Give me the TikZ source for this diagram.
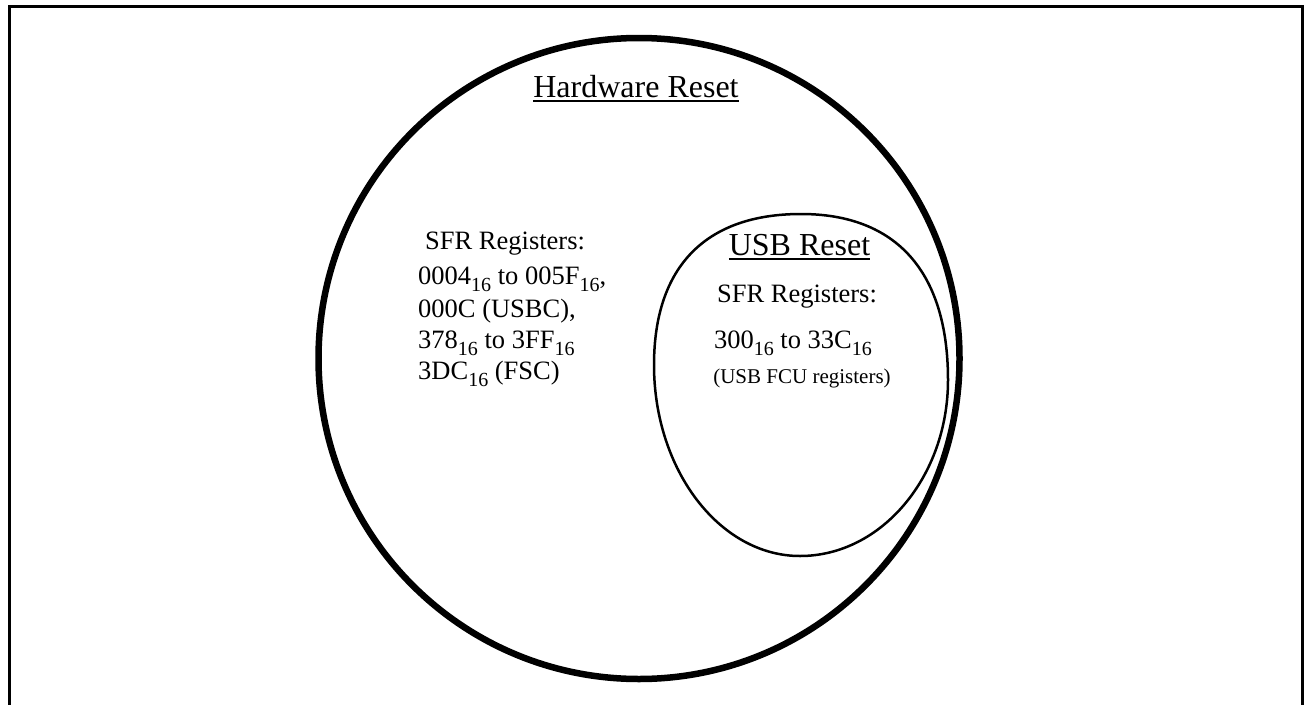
\documentclass[tikz,border=0pt]{standalone}
\usepackage{fontspec}
\setmainfont{Liberation Serif}
\usetikzlibrary{shapes.geometric}

\newcommand{\hexsub}[1]{\raisebox{-0.27em}{\fontsize{20}{20}\selectfont #1}}
\newcommand{\unterstr}[1]{\leavevmode\vtop{\hbox{#1}\kern2.5pt\hrule height 1.8pt}}

\begin{document}
\begin{tikzpicture}[x=1pt, y=-1pt,
        every node/.style={inner sep=0pt, font=\fontsize{26.5}{32}\selectfont},
        gross/.style={font=\fontsize{32}{38}\selectfont},
        klein/.style={font=\fontsize{21}{25}\selectfont},
        menge/.style={draw, circle, line width=#1},
        rand/.style={draw, line width=3pt}
    ]

        \useasboundingbox (0,0) rectangle (1306,704);

        %--------------------------------
        % Rahmen und Mengen
        %--------------------------------
        \draw[rand] (9,6) rectangle (1302.5,715);

        \node[menge=6.5pt, minimum size=641pt] (hw) at (639,358.5) {};

        % USB-Menge (oben etwas flacher)
        \coordinate (uo) at (801,214);
        \coordinate (ul) at (654,365);
        \coordinate (uu) at (800,556);
        \coordinate (ur) at (948,380);
        \draw[line width=2.5pt]
            (uo) .. controls (705.5,214) and (654,266.8) .. (ul)
                 .. controls (654,470) and (719.7,556) .. (uu)
                 .. controls (881.4,556) and (948,476.8) .. (ur)
                 .. controls (948,272) and (896.5,214) .. (uo) -- cycle;

        %--------------------------------
        % Hardware Reset
        %--------------------------------
        \node[gross, anchor=base] (hwtitel) at (636,97) {\unterstr{Hardware Reset}};

        \node[anchor=base west] (l1) at (425,249) {SFR Registers:};
        \foreach \y/\n/\t in {284/2/{0004\hexsub{16} to 005F\hexsub{16},},
                              317/3/{000C (USBC),},
                              348/4/{378\hexsub{16} to 3FF\hexsub{16}},
                              379/5/{3DC\hexsub{16} (FSC)}}
            \node[anchor=base west] (l\n) at (418,\y) {\t};

        %--------------------------------
        % USB Reset
        %--------------------------------
        \node[gross, anchor=base] (usbtitel) at (799.5,255) {\unterstr{USB Reset}};
        \node[anchor=base] (u1) at (797,302) {SFR Registers:};
        \node[anchor=base] (u2) at (793,348) {300\hexsub{16} to 33C\hexsub{16}};
        \node[klein, anchor=base] (u3) at (802,383) {(USB FCU registers)};

    \end{tikzpicture}
\end{document}
